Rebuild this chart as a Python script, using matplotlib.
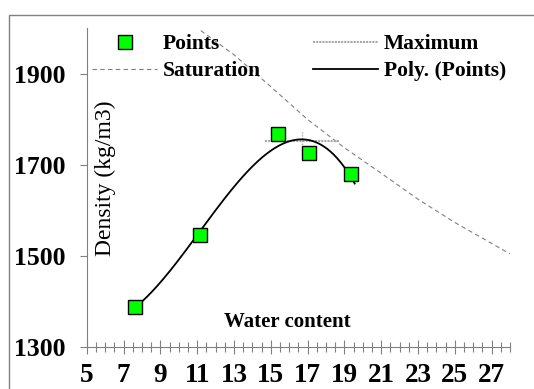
import numpy as np
import matplotlib
matplotlib.use("Agg")
import matplotlib.pyplot as plt
from matplotlib.patches import Rectangle
from matplotlib.ticker import MultipleLocator

# ---- data ----
water = [7.62, 11.15, 15.37, 17.07, 19.36]
density = [1389, 1546, 1768, 1727, 1680]

sat_water = [11.2, 13.0, 15.0, 17.0, 19.0, 21.0, 23.0, 25.0, 28.0]
sat_density = [1995, 1942, 1872, 1800, 1738, 1682, 1625, 1574, 1505]

max_water = 16.7
max_density = 1753
max_dx = 2.0
max_dy = 20

xticks = [5, 7, 9, 11, 13, 15, 17, 19, 21, 23, 25, 27]
yticks = [1300, 1500, 1700, 1900]

plt.rcParams['font.family'] = ['Liberation Serif', 'DejaVu Serif']

W, H = 534, 389
fig = plt.figure(figsize=(W / 100, H / 100), dpi=100)
ax = fig.add_axes([86.7 / W, 1 - 347.3 / H, (510 - 86.7) / W, (347.3 - 28.3) / H])

# outer frame
fig.patches.append(Rectangle((9 / W, -0.2), 1.2, 1 - 15 / H + 0.2, transform=fig.transFigure,
                             fill=False, edgecolor='#808080', lw=1.0, zorder=0))

# saturation curve
sat_line, = ax.plot(sat_water, sat_density, color='#808080', lw=0.8, ls=(0, (4, 3)),
                    label='Saturation', zorder=2)

# polynomial trendline
coef = np.polyfit(water, density, 3)
xs = np.linspace(min(water), max(water) + 0.2, 200)
poly_line, = ax.plot(xs, np.polyval(coef, xs), color='black', lw=1.3,
                     label='Poly. (Points)', zorder=3)

# maximum cross
max_line, = ax.plot([max_water - max_dx, max_water + max_dx], [max_density, max_density],
                    color='#a8a8a8', lw=1.5, ls=(0, (1, 0.5)), label='Maximum', zorder=2)
ax.plot([max_water, max_water], [max_density - max_dy, max_density + max_dy],
        color='#a8a8a8', lw=1.0, ls=(0, (1, 1)), zorder=2)

# points
pts, = ax.plot(water, density, ls='none', marker='s', markersize=9.5,
               markerfacecolor='#00ff00', markeredgecolor='black', markeredgewidth=1.0,
               label='Points', zorder=4)

ax.set_xlim(5, 28)
ax.set_ylim(1300, 2000)
ax.set_xticks(xticks)
ax.xaxis.set_minor_locator(MultipleLocator(0.5))
ax.set_yticks(yticks)

for s in ['top', 'right']:
    ax.spines[s].set_visible(False)
for s in ['left', 'bottom']:
    ax.spines[s].set_color('#808080')
    ax.spines[s].set_linewidth(0.8)

ax.tick_params(axis='x', which='major', direction='inout', length=10, width=0.8,
               color='#808080', pad=6, labelsize=19.5)
ax.tick_params(axis='x', which='minor', direction='inout', length=7, width=0.8,
               color='#808080')
ax.tick_params(axis='y', which='major', direction='out', length=5, width=0.8,
               color='#808080', pad=10, labelsize=18.5)
for lab in ax.get_xticklabels() + ax.get_yticklabels():
    lab.set_fontweight('bold')

ax.set_xlabel('Water content', fontsize=15, fontweight='bold', va='center')
ax.xaxis.set_label_coords((287.5 - 86.7) / (510 - 86.7), (347.3 - 321.7) / (347.3 - 28.3))
ax.set_ylabel('Density (kg/m3)', fontsize=17, va='center')
ax.yaxis.set_label_coords((105 - 86.7) / (510 - 86.7), (347.3 - 178) / (347.3 - 28.3))

fs = 15.5
fpx = fs * 100 / 72
leg = ax.legend(handles=[pts, sat_line, max_line, poly_line], ncol=2,
                loc='upper left', bbox_to_anchor=(92 / W, 1 - 34 / H),
                bbox_transform=fig.transFigure, frameon=False, borderpad=0,
                borderaxespad=0, handlelength=65 / fpx, handletextpad=6 / fpx,
                columnspacing=52 / fpx, labelspacing=0.33,
                prop={'family': 'Liberation Serif', 'weight': 'bold', 'size': fs})

fig.savefig('out.png', dpi=100)
